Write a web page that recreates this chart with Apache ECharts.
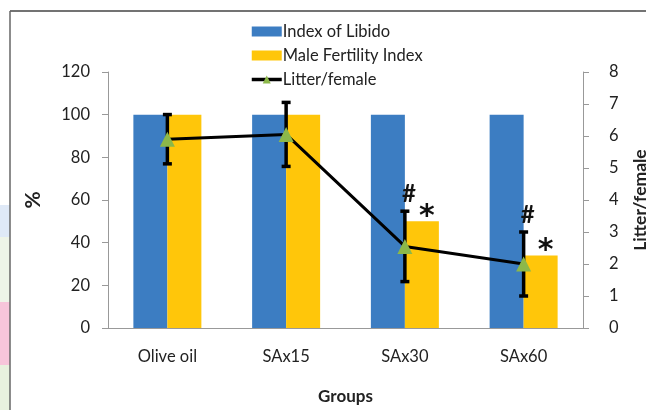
<!DOCTYPE html>
<html>
<head>
<meta charset="utf-8">
<script src="https://cdn.jsdelivr.net/npm/echarts@6/dist/echarts.min.js"></script>
<style>
html,body{margin:0;padding:0;background:#fff;}
#chart{width:646px;height:410px;}
</style>
</head>
<body>
<div id="chart"></div>
<script>
// 数据
var groups = ['Olive oil', 'SAx15', 'SAx30', 'SAx60'];
var libido = [100, 100, 100, 100];
var fertility = [100, 100, 50, 34];
var litter = [5.9, 6.05, 2.55, 2.0];
var litterErr = [0.77, 1.0, 1.1, 1.0];
var hashMarks = ['', '', '#', '#'];
var starMarks = ['', '', '*', '*'];
var leftTicks = [0, 20, 40, 60, 80, 100, 120];
var rightTicks = [0, 1, 2, 3, 4, 5, 6, 7, 8];

var font = 'Lato, "Open Sans", sans-serif';

function drawChart() {
	var chart = echarts.init(document.getElementById('chart'));
	var errData = [];
	for (var i = 0; i < groups.length; i++) {
		errData.push([i, litter[i] - litterErr[i], litter[i] + litterErr[i]]);
	}
	var option = {
		animation: false,
		textStyle: { fontFamily: font },
		graphic: [
			// 左边的截图背景条
			{ type: 'rect', shape: { x: 0, y: 205, width: 10, height: 32 }, style: { fill: '#dfe9f7' } },
			{ type: 'rect', shape: { x: 0, y: 237, width: 10, height: 65 }, style: { fill: '#eef4e8' } },
			{ type: 'rect', shape: { x: 0, y: 302, width: 10, height: 63 }, style: { fill: '#f7c5da' } },
			{ type: 'rect', shape: { x: 0, y: 365, width: 10, height: 45 }, style: { fill: '#e8f1de' } },
			{ type: 'line', shape: { x1: 10, y1: 11, x2: 646, y2: 11 }, style: { stroke: '#444', lineWidth: 1.5 } },
			{ type: 'line', shape: { x1: 10, y1: 11, x2: 10, y2: 410 }, style: { stroke: '#666', lineWidth: 1.5 } }
		],
		legend: {
			orient: 'vertical',
			left: 245,
			top: 18,
			itemWidth: 30,
			itemHeight: 10,
			itemGap: 7,
			textStyle: { fontSize: 16.5, color: '#222', fontFamily: font, padding: [0, 0, 0, -4] },
			data: [
				{ name: 'Index of Libido', icon: 'rect' },
				{ name: 'Male Fertility Index', icon: 'rect' },
				{ name: 'Litter/female', lineStyle: { width: 3.5, color: '#000' } }
			]
		},
		grid: { left: 108, right: 63, top: 72, bottom: 82, outerBoundsMode: 'none', containLabel: false },
		xAxis: [{
			type: 'category',
			data: groups,
			name: 'Groups',
			nameLocation: 'middle',
			nameGap: 60,
			nameTextStyle: { fontSize: 17, fontWeight: 'bold', color: '#222' },
			axisLine: { lineStyle: { color: '#999' } },
			axisTick: { lineStyle: { color: '#999' }, length: 6 },
			axisLabel: { fontSize: 16.5, color: '#222', margin: 20 }
		}],
		yAxis: [{
			type: 'value',
			min: 0, max: 120, interval: 20,
			name: '%',
			nameLocation: 'middle',
			nameRotate: 90,
			nameGap: 64,
			nameTextStyle: { fontSize: 21, fontWeight: 'bold', color: '#222' },
			axisLine: { show: true, lineStyle: { color: '#999' } },
			axisTick: { show: true, lineStyle: { color: '#999' }, length: 6 },
			splitLine: { show: false },
			axisLabel: {
				fontSize: 16.5, color: '#222', margin: 18,
				formatter: function (v) { return leftTicks.indexOf(v) >= 0 ? v : ''; }
			}
		}, {
			type: 'value',
			min: 0, max: 8, interval: 1,
			position: 'right',
			name: 'Litter/female',
			nameLocation: 'middle',
			nameRotate: 90,
			nameGap: 48,
			nameTextStyle: { fontSize: 17.5, fontWeight: 'bold', color: '#222' },
			axisLine: { show: true, lineStyle: { color: '#999' } },
			axisTick: { show: true, lineStyle: { color: '#999' }, length: 6 },
			splitLine: { show: false },
			axisLabel: {
				fontSize: 16.5, color: '#222', margin: 26,
				formatter: function (v) { return rightTicks.indexOf(v) >= 0 ? v : ''; }
			}
		}],
		series: [{
			name: 'Index of Libido',
			type: 'bar',
			barWidth: 34,
			barGap: '0%',
			itemStyle: { color: '#3c7dc2' },
			data: libido
		}, {
			name: 'Male Fertility Index',
			type: 'bar',
			barWidth: 34,
			itemStyle: { color: '#ffc60a' },
			data: fertility
		}, {
			// 误差线
			name: 'err',
			type: 'custom',
			yAxisIndex: 1,
			z: 3,
			data: errData,
			renderItem: function (params, api) {
				var x = api.coord([api.value(0), api.value(1)])[0];
				var lo = api.coord([api.value(0), api.value(1)])[1];
				var hi = api.coord([api.value(0), api.value(2)])[1];
				var st = { stroke: '#000', lineWidth: 3.5 };
				return {
					type: 'group',
					children: [
						{ type: 'line', shape: { x1: x, y1: hi, x2: x, y2: lo }, style: st },
						{ type: 'line', shape: { x1: x - 4.5, y1: hi, x2: x + 4.5, y2: hi }, style: st },
						{ type: 'line', shape: { x1: x - 4.5, y1: lo, x2: x + 4.5, y2: lo }, style: st }
					]
				};
			}
		}, {
			name: 'Litter/female',
			type: 'line',
			yAxisIndex: 1,
			z: 4,
			symbol: 'triangle',
			symbolSize: 15,
			itemStyle: { color: '#8cb84a' },
			lineStyle: { color: '#000', width: 3 },
			data: litter
		}, {
			// 显著性标记 #
			name: 'hash',
			type: 'custom',
			yAxisIndex: 1,
			z: 5,
			data: errData,
			renderItem: function (params, api) {
				var t = hashMarks[params.dataIndex];
				if (!t) return null;
				var p = api.coord([api.value(0), api.value(2)]);
				return {
					type: 'text',
					style: { text: t, x: p[0] + 4, y: p[1] - 5, align: 'center', verticalAlign: 'bottom',
						fontSize: 24, fontWeight: 'bold', fill: '#111', fontFamily: font }
				};
			}
		}, {
			// 显著性标记 *
			name: 'star',
			type: 'custom',
			z: 5,
			data: fertility.map(function (v, i) { return [i, v]; }),
			renderItem: function (params, api) {
				var t = starMarks[params.dataIndex];
				if (!t) return null;
				var p = api.coord([api.value(0), api.value(1)]);
				return {
					type: 'text',
					style: { text: t, x: p[0] + 22, y: p[1] + 11, align: 'center', verticalAlign: 'bottom',
						fontSize: 30, fontWeight: 'bold', fill: '#111', fontFamily: '"DejaVu Sans", sans-serif' }
				};
			}
		}]
	};
	chart.setOption(option);
}

drawChart();
</script>
</body>
</html>
